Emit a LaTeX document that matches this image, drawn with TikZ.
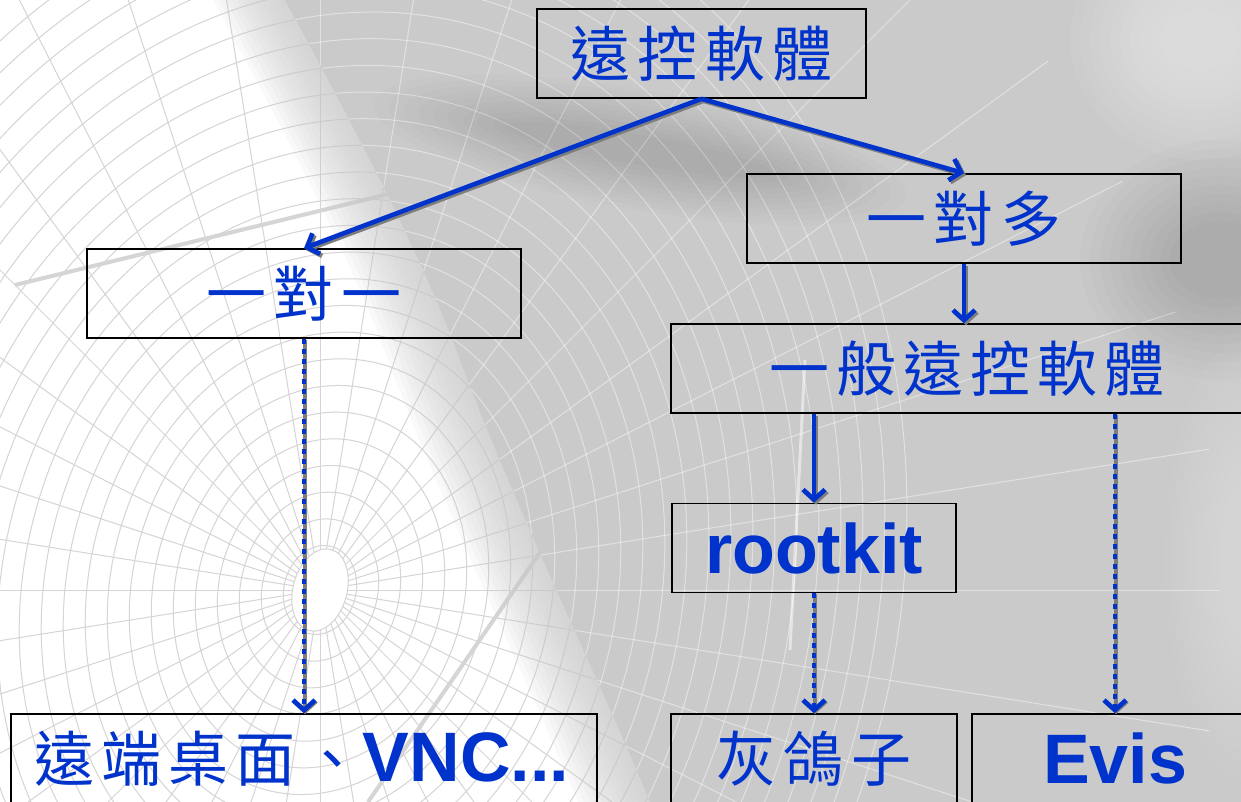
\documentclass[tikz,border=0pt]{standalone}
\usepackage{fontspec}
\newfontfamily\cjk[LetterSpace=12]{Noto Sans CJK TC}
\newfontfamily\lat{Liberation Sans}
\usetikzlibrary{arrows.meta}
\definecolor{lineblue}{RGB}{0,51,204}
\definecolor{shadowgray}{RGB}{125,125,125}
\definecolor{meshc}{RGB}{214,212,212}
\definecolor{bggray}{RGB}{202,202,202}
\begin{document}
\begin{tikzpicture}[x=1pt,y=-1pt,
  box/.style={draw=black, line width=1.6pt, inner sep=0pt, text=lineblue, minimum height=89pt},
  cj/.style={font=\cjk\fontsize{60}{60}\selectfont},
  lt/.style={font=\lat\bfseries\fontsize{70}{70}\selectfont},
  tipx/.style={-{Straight Barb[length=10pt,width=22pt]}},
  conn/.style={draw=lineblue, line width=4.6pt, tipx},
  shad/.style={draw=shadowgray, line width=4.6pt, tipx, transform canvas={shift={(2pt,-2pt)}}},
  dotconn/.style={conn, dash pattern=on 5pt off 5pt},
  dotshad/.style={draw=shadowgray, line width=4.6pt, tipx, transform canvas={shift={(1pt,-1pt)}}},
]
\useasboundingbox (0,0) rectangle (1241,802);
\fill[white] (0,0) rectangle (1241,802);
% ---- background mesh ----
\begin{scope}
\clip (0,0) rectangle (1241,802);
\foreach \r in {45,72,...,720}
  \draw[meshc, line width=1pt, rotate around={-15:(320,590)}] (320,590) ellipse [x radius=0.8*\r, y radius=\r];
\foreach \a in {0,9,...,351}
  \draw[meshc, line width=1pt] (320,590) -- ++(\a:900);
\fill[white, rotate around={-15:(320,590)}] (320,590) ellipse [x radius=27, y radius=42];
\draw[meshc, line width=1pt, rotate around={-15:(320,590)}] (320,590) ellipse [x radius=27, y radius=42];
\draw[meshc, line width=4pt] (15,285) -- (660,128);
\draw[meshc, line width=4pt] (368,802) -- (590,480);
% ---- grey region with soft edge ----
\foreach \i in {12,11,...,1}
  \fill[bggray, opacity=0.1, xshift=-\i*6] (285,0) .. controls (350,120) and (420,250) .. (460,360) .. controls (520,520) and (600,680) .. (650,802) -- (1241,802) -- (1241,0) -- cycle;
\fill[bggray] (285,0) .. controls (350,120) and (420,250) .. (460,360) .. controls (520,520) and (600,680) .. (650,802) -- (1241,802) -- (1241,0) -- cycle;
\begin{scope}
\clip (285,0) .. controls (350,120) and (420,250) .. (460,360) .. controls (520,520) and (600,680) .. (650,802) -- (1241,802) -- (1241,0) -- cycle;
\foreach \r in {45,72,...,720}
  \draw[white, opacity=0.45, line width=1pt, rotate around={-15:(320,590)}] (320,590) ellipse [x radius=0.8*\r, y radius=\r];
\foreach \a in {0,9,...,351}
  \draw[white, opacity=0.45, line width=1pt] (320,590) -- ++(\a:900);
\foreach \i in {0,1,...,9}
  \fill[black, opacity=0.012, rotate around={-10:(640,150)}] (640,150) ellipse [x radius=270-\i*15, y radius=60-\i*5];
\foreach \i in {0,1,...,9}
  \fill[black, opacity=0.012] (1220,260) ellipse [x radius=140-\i*10, y radius=120-\i*9];
\foreach \i in {0,1,...,9}
  \fill[white, opacity=0.05] (1200,40) ellipse [x radius=130-\i*10, y radius=120-\i*10];
\foreach \i in {0,1,...,9}
  \fill[white, opacity=0.035] (1245,560) ellipse [x radius=80-\i*6, y radius=220-\i*15];
\draw[white, opacity=0.5, line width=3pt] (805,360) -- (790,650);
\end{scope}
\end{scope}
% ---- nodes ----
\node[box, cj, minimum width=329pt] (root) at (701.5,53.5) {遠控軟體};
\node[box, cj, minimum width=434pt] (many) at (964,218.5) {一對多};
\node[box, cj, minimum width=434pt] (one) at (304,293.5) {一對一};
\node[box, cj, minimum width=592pt] (general) at (967,368.5) {一般遠控軟體};
\node[box, lt, minimum width=284pt] (rootkit) at (814,548) {rootkit};
\node[box, minimum width=586pt, text width=540pt, align=left, inner xsep=23pt] (remote) at (304,758.5)
  {{\cjk\fontsize{60}{60}\selectfont 遠端桌面、}{\lat\bfseries\fontsize{70}{70}\selectfont VNC...}};
\node[box, cj, minimum width=286pt] (pigeon) at (814,758.5) {灰鴿子};
\node[box, lt, minimum width=286pt] (evis) at (1115,758.5) {Evis};
% ---- connectors: shadows ----
\draw[shad] (root.south) -- (one.north);
\draw[shad] (root.south) -- (many.north);
\draw[shad] (many.south) -- (many.south |- general.north);
\draw[shad] (rootkit.north |- general.south) -- (rootkit.north);
\draw[dotshad] (one.south) -- (one.south |- remote.north);
\draw[dotshad] (rootkit.south) -- (pigeon.north);
\draw[dotshad] (evis.north |- general.south) -- (evis.north);
% ---- connectors ----
\draw[conn] (root.south) -- (one.north);
\draw[conn] (root.south) -- (many.north);
\draw[conn] (many.south) -- (many.south |- general.north);
\draw[conn] (rootkit.north |- general.south) -- (rootkit.north);
\draw[dotconn] (one.south) -- (one.south |- remote.north);
\draw[dotconn] (rootkit.south) -- (pigeon.north);
\draw[dotconn] (evis.north |- general.south) -- (evis.north);
\end{tikzpicture}
\end{document}
